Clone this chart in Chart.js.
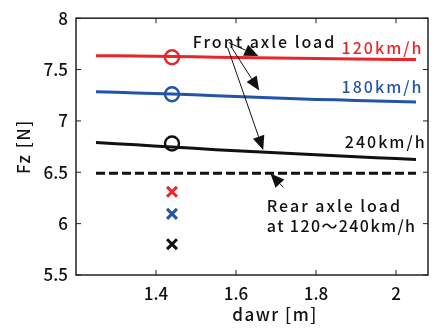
<!DOCTYPE html>
<html>
<head>
<meta charset="utf-8">
<script src="https://cdn.jsdelivr.net/npm/chart.js@4"></script>
<style>
  html, body { margin: 0; padding: 0; background: #fff; }
  #wrap { width: 438px; height: 329px; }
</style>
</head>
<body>
<div id="wrap"><canvas id="fzChart"></canvas></div>
<script>
// data
const dawr = [1.25, 1.35, 1.44, 1.55, 1.65, 1.75, 1.85, 1.95, 2.05];
const fz120 = [7.635, 7.632, 7.628, 7.62, 7.615, 7.61, 7.605, 7.60, 7.598];
const fz180 = [7.285, 7.272, 7.262, 7.245, 7.23, 7.215, 7.205, 7.195, 7.185];
const fz240 = [6.79, 6.767, 6.746, 6.72, 6.70, 6.68, 6.66, 6.642, 6.625];
const markX = 1.44;
const frontMarks = [7.62, 7.26, 6.78];
const rearMarks = [6.31, 6.095, 5.80];
const rearLoad = 6.49;
const rearRange = [1.25, 2.05];
const xTicks = [1.4, 1.6, 1.8, 2];
const yTicks = [5.5, 6, 6.5, 7, 7.5, 8];
const speedColors = ['#e8262a', '#2255a8', '#111111'];

const FONT = '"Noto Sans CJK JP", "DejaVu Sans", sans-serif';
const ctxEl = document.getElementById('fzChart');

function pts(xs, ys) {
    return xs.map((x, i) => ({ x: x, y: ys[i] }));
}

// text + arrows drawn in data coordinates
const notes = [
    { text: 'Front axle load', x: 1.492, y: 7.708, color: '#111', sp: 2 },
    { text: '120km/h', x: 1.864, y: 7.655, color: speedColors[0], sp: 2 },
    { text: '180km/h', x: 1.864, y: 7.275, color: speedColors[1], sp: 2 },
    { text: '240km/h', x: 1.872, y: 6.736, color: '#111', sp: 2 },
    { text: 'Rear axle load', x: 1.677, y: 6.118, color: '#111', sp: 2 },
    { text: 'at 120～240km/h', x: 1.677, y: 5.918, color: '#111', sp: 1.4 }
];
const arrows = [
    { x0: 1.582, y0: 7.762, x1: 1.656, y1: 7.632 },
    { x0: 1.589, y0: 7.715, x1: 1.658, y1: 7.297 },
    { x0: 1.579, y0: 7.715, x1: 1.668, y1: 6.717 },
    { x0: 1.718, y0: 6.355, x1: 1.686, y1: 6.489 }
];

const framePlugin = {
    id: 'frame',
    afterDatasetsDraw(chart) {
        const c = chart.ctx;
        const a = chart.chartArea;
        const xs = chart.scales.x, ys = chart.scales.y;
        c.save();
        // arrows
        c.strokeStyle = '#111';
        c.fillStyle = '#111';
        c.lineWidth = 1;
        arrows.forEach(ar => {
            const x0 = xs.getPixelForValue(ar.x0), y0 = ys.getPixelForValue(ar.y0);
            const x1 = xs.getPixelForValue(ar.x1), y1 = ys.getPixelForValue(ar.y1);
            const ang = Math.atan2(y1 - y0, x1 - x0);
            const len = 14, half = 6;
            const bx = x1 - len * Math.cos(ang), by = y1 - len * Math.sin(ang);
            c.beginPath();
            c.moveTo(x0, y0);
            c.lineTo(bx, by);
            c.stroke();
            c.beginPath();
            c.moveTo(x1, y1);
            c.lineTo(bx + half * Math.sin(ang), by - half * Math.cos(ang));
            c.lineTo(bx - half * Math.sin(ang), by + half * Math.cos(ang));
            c.closePath();
            c.fill();
        });
        // notes
        c.font = '500 16px ' + FONT;
        c.textBaseline = 'alphabetic';
        c.textAlign = 'left';
        notes.forEach(n => {
            c.letterSpacing = n.sp + 'px';
            c.fillStyle = n.color;
            c.fillText(n.text, xs.getPixelForValue(n.x), ys.getPixelForValue(n.y));
        });
        c.letterSpacing = '0px';
        // box
        c.strokeStyle = '#222';
        c.lineWidth = 1.5;
        c.strokeRect(a.left, a.top, a.right - a.left, a.bottom - a.top);
        // inward ticks
        c.lineWidth = 1;
        const tl = 5;
        c.beginPath();
        xTicks.forEach(v => {
            const px = xs.getPixelForValue(v);
            c.moveTo(px, a.bottom); c.lineTo(px, a.bottom - tl);
            c.moveTo(px, a.top); c.lineTo(px, a.top + tl);
        });
        yTicks.forEach(v => {
            const py = ys.getPixelForValue(v);
            c.moveTo(a.left, py); c.lineTo(a.left + tl, py);
            c.moveTo(a.right, py); c.lineTo(a.right - tl, py);
        });
        c.stroke();
        // axis titles
        c.fillStyle = '#111';
        c.font = '500 17px ' + FONT;
        c.letterSpacing = '1.5px';
        c.textAlign = 'center';
        c.textBaseline = 'middle';
        c.fillText('dawr [m]', 275, 315);
        c.translate(24, (a.top + a.bottom) / 2);
        c.rotate(-Math.PI / 2);
        c.fillText('Fz [N]', 0, 0);
        c.restore();
    }
};

new Chart(ctxEl, {
    type: 'scatter',
    data: {
        datasets: [
            {
                label: 'Rear axle load',
                data: pts(rearRange, [rearLoad, rearLoad]),
                showLine: true,
                borderColor: '#111',
                borderWidth: 3,
                borderDash: [9, 4],
                pointRadius: 0
            },
            {
                label: '120km/h',
                data: pts(dawr, fz120),
                showLine: true,
                borderColor: speedColors[0],
                borderWidth: 3,
                pointRadius: 0,
                tension: 0.3
            },
            {
                label: '180km/h',
                data: pts(dawr, fz180),
                showLine: true,
                borderColor: speedColors[1],
                borderWidth: 3,
                pointRadius: 0,
                tension: 0.3
            },
            {
                label: '240km/h',
                data: pts(dawr, fz240),
                showLine: true,
                borderColor: speedColors[2],
                borderWidth: 3,
                pointRadius: 0,
                tension: 0.3
            },
            {
                label: 'front',
                data: frontMarks.map(v => ({ x: markX, y: v })),
                pointStyle: 'circle',
                pointRadius: 7,
                pointBorderWidth: 2.5,
                pointBackgroundColor: 'rgba(0,0,0,0)',
                pointBorderColor: speedColors
            },
            {
                label: 'rear',
                data: rearMarks.map(v => ({ x: markX, y: v })),
                pointStyle: 'crossRot',
                pointRadius: 7,
                pointBorderWidth: 3,
                pointBorderColor: speedColors
            }
        ]
    },
    options: {
        responsive: true,
        maintainAspectRatio: false,
        animation: false,
        layout: { padding: { top: 12, right: 9, left: 0, bottom: 0 } },
        plugins: {
            legend: { display: false },
            tooltip: { enabled: false }
        },
        scales: {
            x: {
                type: 'linear',
                min: 1.2,
                max: 2.08,
                grid: { display: false, drawTicks: false },
                border: { display: false },
                afterBuildTicks: s => { s.ticks = xTicks.map(v => ({ value: v })); },
                afterFit: s => { s.height = 54; },
                ticks: {
                    padding: 8,
                    color: '#111',
                    font: { family: FONT, size: 17, weight: '500' },
                    callback: v => String(v)
                }
            },
            y: {
                type: 'linear',
                min: 5.5,
                max: 8,
                grid: { display: false, drawTicks: false },
                border: { display: false },
                afterBuildTicks: s => { s.ticks = yTicks.map(v => ({ value: v })); },
                afterFit: s => { s.width = 76; },
                ticks: {
                    padding: 8,
                    color: '#111',
                    font: { family: FONT, size: 17, weight: '500' },
                    callback: v => String(v)
                }
            }
        }
    },
    plugins: [framePlugin]
});
</script>
</body>
</html>
